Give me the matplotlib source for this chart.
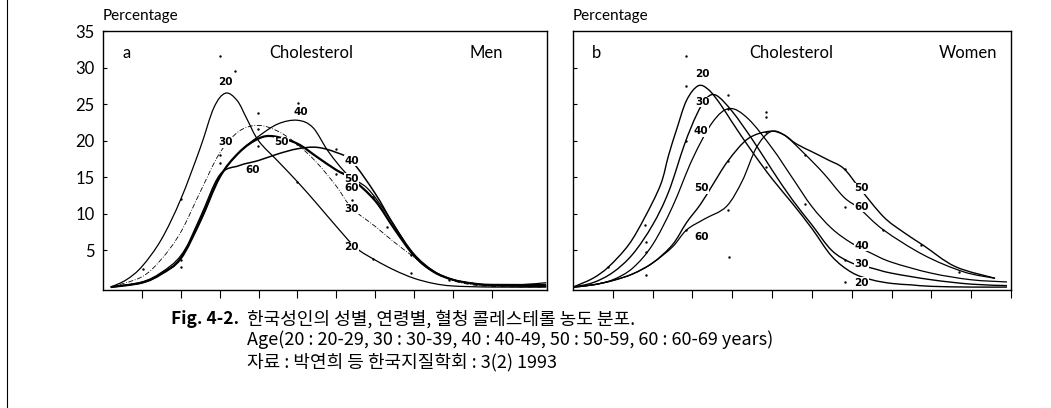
import matplotlib.pyplot as plt
from matplotlib.path import Path
from matplotlib.patches import PathPatch
from matplotlib.lines import Line2D
import numpy as np

plt.rcParams['font.family'] = ['Lato', 'DejaVu Sans']

# 남성 (a) - 연령별 곡선
m20_x = [0.2, 0.6, 1, 1.5, 2, 2.5, 2.85, 3.15, 3.45, 3.7, 4, 4.5, 5, 5.5, 6, 6.5, 7, 7.5, 8, 8.5, 9, 10, 11.4]
m20_y = [0, 1, 2.8, 6.5, 12, 19, 24.5, 26.5, 25.5, 23, 20, 17.2, 14.4, 11.4, 8.3, 5.4, 3.7, 2.3, 1.2, 0.5, 0.15, 0, 0]
m30_x = [0.2, 1, 1.5, 2, 2.5, 3, 3.5, 4, 4.5, 5, 5.5, 6, 6.4, 7, 7.5, 8, 8.5, 9, 9.5, 10, 11.4]
m30_y = [0, 1.4, 3.8, 7.5, 13, 18.3, 21.3, 22.1, 21.3, 19.5, 17, 13.8, 10.8, 8.3, 6.1, 4.1, 2.2, 0.9, 0.3, 0.1, 0]
m40_x = [0.2, 1, 1.5, 2, 2.5, 3, 3.5, 4, 4.5, 5, 5.4, 5.8, 6.3, 6.8, 7.3, 8, 8.5, 9, 9.5, 10, 10.7, 11.4]
m40_y = [0, 0.7, 2, 4.3, 9, 15, 18.4, 20.6, 22.3, 22.8, 21.8, 18.5, 15.3, 13.5, 10, 4.3, 2.1, 1.0, 0.5, 0.3, 0.3, 0.6]
m50_x = [0.2, 1, 1.5, 2, 2.5, 3, 3.5, 4, 4.4, 5, 5.5, 6, 6.4, 7, 7.5, 8, 8.5, 9, 9.5, 10, 11.4]
m50_y = [0, 0.6, 1.8, 3.9, 9, 15, 18.4, 20.3, 20.6, 19.6, 17.8, 16, 14.8, 11.8, 7.9, 4.3, 2.1, 1.0, 0.5, 0.3, 0.3]
m60_x = [0.2, 1, 1.5, 2, 2.5, 3, 3.5, 4, 4.5, 5, 5.5, 6, 6.4, 7, 7.5, 8, 8.5, 9, 9.5, 10, 11.4]
m60_y = [0, 0.6, 1.8, 4, 9.5, 15.3, 16.6, 17.3, 18.2, 18.9, 19.1, 18.4, 17.2, 12.8, 8.3, 4.5, 2.2, 1.0, 0.5, 0.2, 0.1]

m_dots_x = [1.04, 2.0, 2.0, 2.0, 3.0, 3.39, 3.0, 3.0, 3.99, 3.99, 3.99, 5.02, 4.98, 5.0, 6.0, 6.0, 6.4, 6.95, 6.95, 7.3, 7.93, 7.93, 8.9, 10.7]
m_dots_y = [2.5, 12.1, 3.7, 2.8, 31.6, 29.5, 18, 16.9, 23.8, 19.3, 21.6, 25.1, 14.4, 19.6, 18.9, 15.5, 11.9, 12.3, 3.9, 8.2, 4.4, 1.9, 1.0, 0.3]

# 여성 (b) - 연령별 곡선
w20_x = [0, 0.5, 0.9, 1.4, 1.8, 2.2, 2.4, 2.6, 2.85, 3.14, 3.4, 3.7, 4, 4.5, 5, 5.5, 6, 6.5, 7, 7.5, 8, 8.5, 9, 10, 10.9]
w20_y = [0, 1.2, 2.8, 5.8, 9.5, 14, 18, 21.5, 25.5, 27.5, 27, 25, 22.5, 18.5, 14.8, 11.5, 8, 4.2, 2, 1, 0.5, 0.3, 0.1, 0, 0]
w30_x = [0, 0.5, 1, 1.5, 2, 2.4, 2.8, 3.1, 3.35, 3.6, 4, 4.5, 5, 5.5, 6, 6.5, 7, 7.5, 8, 9, 10, 10.9]
w30_y = [0, 0.6, 2, 4.5, 8.5, 13, 19.5, 23.5, 25.8, 26.2, 24, 20.2, 16, 12, 8.5, 5.0, 3.3, 2.6, 1.9, 1.0, 0.4, 0.2]
w40_x = [0, 0.5, 1, 1.5, 2, 2.5, 3, 3.5, 3.93, 4.4, 5, 5.5, 6, 6.5, 7, 7.5, 8, 9, 10, 10.9]
w40_y = [0, 0.3, 1.0, 2.6, 5.8, 11, 17.5, 22.5, 24.4, 23, 19, 15, 11, 8, 6, 4.6, 3.4, 1.9, 1.0, 0.7]
w50_x = [0, 0.5, 1, 1.5, 2, 2.5, 2.85, 3.2, 3.5, 3.9, 4.4, 4.95, 5.3, 5.6, 6, 6.4, 6.8, 7.2, 7.8, 8.3, 8.8, 9.6, 10.6]
w50_y = [0, 0.3, 0.9, 1.8, 3.3, 5.8, 8.8, 11.3, 13.9, 17.3, 20.3, 21.3, 20.8, 19.6, 18.5, 17.4, 16.2, 13.5, 9.6, 7.5, 5.7, 2.8, 1.2]
w60_x = [0, 0.5, 1, 1.5, 2, 2.5, 2.85, 3.3, 3.85, 4.25, 4.6, 4.95, 5.3, 5.8, 6.3, 6.8, 7.2, 7.8, 8.8, 9.8, 10.6]
w60_y = [0, 0.3, 0.9, 1.8, 3.3, 5.5, 7.8, 9.3, 11, 14.5, 19, 21.2, 20.8, 18.3, 15.5, 12.3, 10.7, 7.8, 4.4, 2.1, 1.2]

w_dots_x = [0.88, 1.8, 1.84, 1.84, 1.84, 2.85, 2.85, 2.85, 2.85, 3.89, 3.89, 3.89, 3.89, 3.93, 4.85, 4.85, 4.85, 4.85,
            5.82, 5.82, 6.82, 6.82, 6.82, 6.82, 7.78, 8.74, 9.7]
w_dots_y = [2.8, 8.5, 6.2, 4.8, 1.6, 31.6, 27.5, 20, 7.8, 26.2, 24.4, 17.3, 10.5, 4.1, 23.9, 23.2, 21.2, 16.4,
            18, 11.4, 16.2, 11, 3.7, 0.7, 7.8, 5.7, 2.1]

yticks = [5, 10, 15, 20, 25, 30, 35]


def smooth(ax, xs, ys, lw=0.9, ls='-'):
    # Catmull-Rom 곡선을 3차 베지어로 그림
    p = np.column_stack([xs, ys])
    verts = [p[0]]
    codes = [Path.MOVETO]
    n = len(p)
    for i in range(n - 1):
        a = p[i - 1] if i > 0 else p[i]
        d = p[i + 2] if i + 2 < n else p[i + 1]
        c1 = p[i] + (p[i + 1] - a) / 6
        c2 = p[i + 1] - (d - p[i]) / 6
        verts += [c1, c2, p[i + 1]]
        codes += [Path.CURVE4] * 3
    ax.add_patch(PathPatch(Path(verts, codes), fill=False, lw=lw, ls=ls,
                           ec='black', transform=ax.transData))


def age_label(ax, x, y, s):
    ax.text(x, y, s, fontsize=7.5, fontweight='bold', family='DejaVu Sans',
            ha='center', va='center', zorder=5,
            bbox=dict(fc='white', ec='none', pad=0.2))


fig = plt.figure(figsize=(10.51, 4.08), dpi=100)
ax1 = fig.add_axes([103 / 1051, 118 / 408, 444 / 1051, 259 / 408])
ax2 = fig.add_axes([573 / 1051, 118 / 408, 438 / 1051, 259 / 408])

# 남성
smooth(ax1, m20_x, m20_y, lw=0.9)
smooth(ax1, m30_x, m30_y, lw=0.6, ls=(0, (6, 2, 1, 2)))
smooth(ax1, m40_x, m40_y, lw=0.9)
smooth(ax1, m50_x, m50_y, lw=1.6)
smooth(ax1, m60_x, m60_y, lw=1.1)
ax1.scatter(m_dots_x, m_dots_y, s=3, c='black', lw=0)
for x, y, s in [(3.14, 28, '20'), (5.1, 23.9, '40'), (3.14, 19.8, '30'), (4.6, 19.8, '50'), (3.86, 16, '60'),
                (6.4, 17.3, '40'), (6.4, 14.8, '50'), (6.4, 13.5, '60'), (6.4, 10.7, '30'), (6.4, 5.5, '20')]:
    age_label(ax1, x, y, s)
ax1.set_xlim(0, 11.42)
ax1.set_xticks(range(1, 11))
ax1.set_yticks(yticks)
ax1.set_yticklabels([str(v) for v in yticks], fontsize=12)
ax1.text(0.045, 0.915, 'a', transform=ax1.transAxes, fontsize=12, va='center')
ax1.text(0.47, 0.915, 'Cholesterol', transform=ax1.transAxes, fontsize=12, ha='center', va='center')
ax1.text(0.90, 0.915, 'Men', transform=ax1.transAxes, fontsize=12, ha='right', va='center')

# 여성
smooth(ax2, w20_x, w20_y, lw=1.0)
smooth(ax2, w30_x, w30_y, lw=1.0)
smooth(ax2, w40_x, w40_y, lw=0.9)
smooth(ax2, w50_x, w50_y, lw=1.0)
smooth(ax2, w60_x, w60_y, lw=0.9)
ax2.scatter(w_dots_x, w_dots_y, s=3, c='black', lw=0)
for x, y, s in [(3.26, 29.1, '20'), (3.26, 25.3, '30'), (3.22, 21.3, '40'), (3.22, 13.5, '50'), (3.22, 6.9, '60'),
                (7.25, 13.5, '50'), (7.25, 11, '60'), (7.25, 5.6, '40'), (7.25, 3.2, '30'), (7.25, 0.6, '20')]:
    age_label(ax2, x, y, s)
ax2.set_xlim(0, 11)
ax2.set_xticks(range(1, 12))
ax2.set_yticks(yticks[:-1])
ax2.set_yticklabels([])
ax2.text(0.043, 0.915, 'b', transform=ax2.transAxes, fontsize=12, va='center')
ax2.text(0.498, 0.915, 'Cholesterol', transform=ax2.transAxes, fontsize=12, ha='center', va='center')
ax2.text(0.968, 0.915, 'Women', transform=ax2.transAxes, fontsize=12, ha='right', va='center')

for ax in (ax1, ax2):
    ax.set_ylim(-0.4, 35)
    ax.set_xticklabels([])
    ax.tick_params(axis='x', direction='out', length=6, width=0.8)
    ax.tick_params(axis='y', direction='in', length=3, width=0.8, pad=6)
    for sp in ax.spines.values():
        sp.set_linewidth(1.0)
    ax.text(0, 1.03, 'Percentage', transform=ax.transAxes, fontsize=11, va='bottom')

# 페이지 가장자리 선
fig.add_artist(Line2D([7 / 1051, 7 / 1051], [0, 1], color='black', lw=0.8))

# 그림 설명
kr = ['Noto Sans CJK KR', 'DejaVu Sans']
fig.text(171 / 1051, 1 - 319 / 408, 'Fig. 4-2.', fontsize=12.5, fontweight='bold', family=kr, va='center')
fig.text(247 / 1051, 1 - 319 / 408, '한국성인의 성별, 연령별, 혈청 콜레스테롤 농도 분포.', fontsize=13, family=kr, va='center')
fig.text(247 / 1051, 1 - 340 / 408, 'Age(20 : 20-29, 30 : 30-39, 40 : 40-49, 50 : 50-59, 60 : 60-69 years)',
         fontsize=13, family=kr, va='center')
fig.text(247 / 1051, 1 - 362 / 408, '자료 : 박연희 등 한국지질학회 : 3(2) 1993', fontsize=13, family=kr, va='center')

plt.savefig('out.png', dpi=100)
